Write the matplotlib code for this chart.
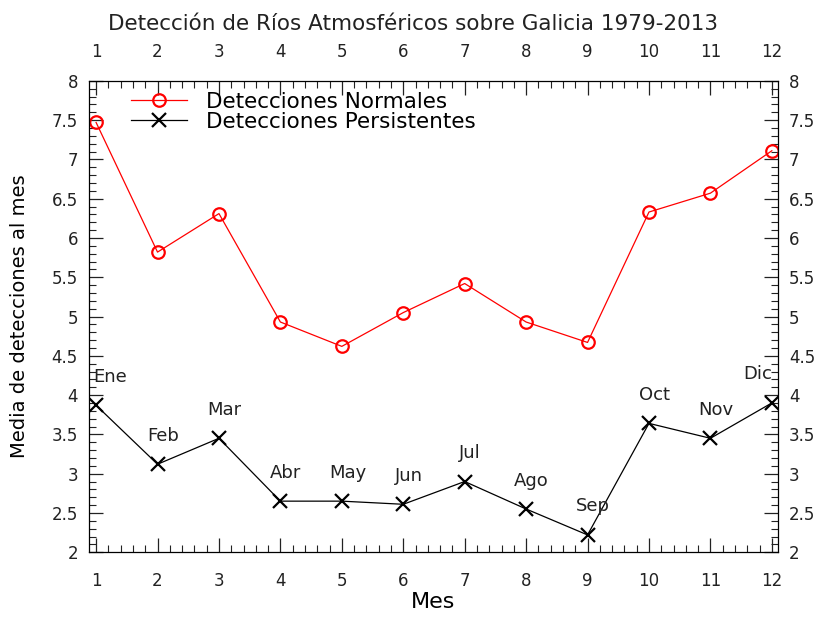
import matplotlib
matplotlib.use("Agg")
import matplotlib.pyplot as plt
from matplotlib.ticker import MultipleLocator, FormatStrFormatter, FuncFormatter

MONTHS = [1, 2, 3, 4, 5, 6, 7, 8, 9, 10, 11, 12]
MONTH_LABELS = ["Ene", "Feb", "Mar", "Abr", "May", "Jun", "Jul", "Ago", "Sep", "Oct", "Nov", "Dic"]
NORMALES = [7.47, 5.82, 6.31, 4.93, 4.62, 5.05, 5.42, 4.93, 4.67, 6.33, 6.57, 7.11]
PERSISTENTES = [3.87, 3.12, 3.45, 2.65, 2.65, 2.61, 2.90, 2.55, 2.22, 3.64, 3.45, 3.90]

plt.rcParams.update({"font.family": "DejaVu Sans", "font.size": 12})

fig = plt.figure(figsize=(8.25, 6.17), dpi=100)
ax = fig.add_axes([0.108, 0.105, 0.835, 0.764])

ax.plot(MONTHS, NORMALES, color="red", linewidth=0.9, marker="o", markersize=9,
        markerfacecolor="none", markeredgecolor="red", markeredgewidth=1.6,
        label="Detecciones Normales")
ax.plot(MONTHS, PERSISTENTES, color="black", linewidth=0.9, marker="x", markersize=10,
        markeredgewidth=1.6, label="Detecciones Persistentes")

for i, (m, v, lab) in enumerate(zip(MONTHS, PERSISTENTES, MONTH_LABELS)):
    dx = 4
    if i == 0:
        dx = 10
    elif i == len(MONTHS) - 1:
        dx = -10
    ax.annotate(lab, (m, v), xytext=(dx, 14), textcoords="offset points",
                ha="center", va="bottom", fontsize=13, color="#222222")

ax.set_xlim(0.886, 12.1)
ax.set_ylim(2, 8)
ax.xaxis.set_major_locator(MultipleLocator(1))
ax.xaxis.set_minor_locator(MultipleLocator(0.2))
ax.yaxis.set_major_locator(MultipleLocator(0.5))
ax.yaxis.set_minor_locator(MultipleLocator(0.1))
ax.yaxis.set_major_formatter(FuncFormatter(lambda v, p: "%g" % v))
ax.xaxis.set_major_formatter(FormatStrFormatter("%d"))
ax.tick_params(which="both", direction="in", top=True, right=True,
               labeltop=True, labelright=True, colors="#222222", labelsize=12)
ax.tick_params(which="major", length=10, width=0.9)
ax.tick_params(which="minor", length=5, width=0.8)
ax.tick_params(axis="y", which="major", pad=8)
ax.tick_params(axis="x", which="major", pad=14)
for s in ax.spines.values():
    s.set_linewidth(0.9)

ax.set_xlabel("Mes", fontsize=16, labelpad=2)
ax.set_ylabel("Media de detecciones al mes", fontsize=14, labelpad=16)
fig.suptitle("Detección de Ríos Atmosféricos sobre Galicia 1979-2013", fontsize=15.5,
             y=0.978, color="#222222")

ax.legend(loc="upper left", frameon=False, fontsize=15.5, handlelength=2.6,
          borderaxespad=0.1, labelspacing=0.0, handletextpad=0.9,
          bbox_to_anchor=(0.045, 1.0))

fig.savefig("out.png", dpi=100)
